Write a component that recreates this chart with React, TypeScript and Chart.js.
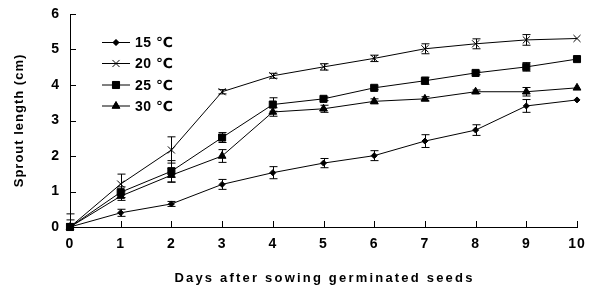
import React, { useEffect, useRef } from "react";
import { Chart, registerables } from "chart.js";
import { drawPoint } from "chart.js/helpers";

Chart.register(...registerables);

const days = [0, 1, 2, 3, 4, 5, 6, 7, 8, 9, 10];
const yTicks = [0, 1, 2, 3, 4, 5, 6];
const seriesNames = ["15 ℃", "20 ℃", "25 ℃", "30 ℃"];
const xTitle = "Days after sowing germinated seeds";
const yTitle = "Sprout length (cm)";
const t15 = [0, 0.4, 0.65, 1.2, 1.53, 1.8, 2.01, 2.42, 2.73, 3.41, 3.58];
const t20 = [0, 1.21, 2.17, 3.81, 4.26, 4.51, 4.75, 5.02, 5.16, 5.27, 5.31];
const t25 = [0, 0.98, 1.57, 2.52, 3.45, 3.61, 3.92, 4.12, 4.34, 4.51, 4.73];
const t30 = [0, 0.87, 1.46, 2.0, 3.24, 3.33, 3.54, 3.61, 3.81, 3.81, 3.92];
const e15 = [0.05, 0.1, 0.07, 0.14, 0.17, 0.13, 0.14, 0.18, 0.15, 0.18, 0];
const e20 = [0.37, 0.28, 0.37, 0.06, 0.07, 0.09, 0.09, 0.14, 0.14, 0.15, 0];
const e25 = [0.2, 0.15, 0.3, 0.14, 0.19, 0.05, 0.05, 0.1, 0.05, 0.12, 0];
const e30 = [0.1, 0.12, 0.2, 0.18, 0.12, 0.1, 0.07, 0.06, 0.05, 0.12, 0];

const FONT = "'Liberation Sans', Arial, 'DejaVu Sans', sans-serif";

export default function App() {
  const ref = useRef<HTMLCanvasElement | null>(null);

  useEffect(() => {
    document.body.style.margin = "0";
    const canvas = ref.current!;
    const values = [t15, t20, t25, t30];
    const errors = [e15, e20, e25, e30];
    const styles = [
      { pointStyle: "rectRot", radius: 3 },
      { pointStyle: "crossRot", radius: 5 },
      { pointStyle: "rect", radius: 5 },
      { pointStyle: "triangle", radius: 4.5 },
    ];

    const datasets = values.map((vals, i) => ({
      label: seriesNames[i],
      data: days.map((d, j) => ({ x: d, y: vals[j] })),
      borderColor: "#000",
      backgroundColor: "#000",
      borderWidth: 1,
      pointStyle: styles[i].pointStyle as any,
      pointRadius: styles[i].radius,
      pointBorderWidth: 1,
      pointBackgroundColor: "#000",
      pointBorderColor: "#000",
      tension: 0,
      clip: false as any,
      errs: errors[i],
    }));

    const spacingPlugin = {
      id: "spacing",
      beforeDraw(chart: any) {
        chart.ctx.letterSpacing = "1px";
      },
    };

    const decoPlugin = {
      id: "deco",
      afterDatasetsDraw(chart: any) {
        const ctx = chart.ctx;
        const xs = chart.scales.x;
        const ys = chart.scales.y;
        const area = chart.chartArea;
        ctx.save();
        ctx.strokeStyle = "#000";
        ctx.lineWidth = 1;
        // tick marks
        ctx.beginPath();
        yTicks.forEach((v) => {
          const py = Math.round(ys.getPixelForValue(v)) + 0.5;
          ctx.moveTo(area.left, py);
          ctx.lineTo(area.left + 6, py);
        });
        days.forEach((d) => {
          const px = Math.round(xs.getPixelForValue(d)) + 0.5;
          ctx.moveTo(px, area.bottom);
          ctx.lineTo(px, area.bottom - 6);
        });
        ctx.stroke();
        // error bars
        ctx.save();
        ctx.beginPath();
        ctx.rect(area.left - 10, area.top - 10, area.right - area.left + 20, area.bottom - area.top + 10);
        ctx.clip();
        chart.data.datasets.forEach((ds: any) => {
          ds.data.forEach((p: any, j: number) => {
            const e = ds.errs[j];
            if (!e) return;
            const px = Math.round(xs.getPixelForValue(p.x)) + 0.5;
            const yt = ys.getPixelForValue(p.y + e);
            const yb = ys.getPixelForValue(p.y - e);
            ctx.beginPath();
            ctx.moveTo(px, yt);
            ctx.lineTo(px, yb);
            ctx.moveTo(px - 4, yt);
            ctx.lineTo(px + 4, yt);
            ctx.moveTo(px - 4, yb);
            ctx.lineTo(px + 4, yb);
            ctx.stroke();
          });
        });
        ctx.restore();
        // legend
        const rows = [42.5, 63.5, 85, 106];
        ctx.font = `bold 14px ${FONT}`;
        ctx.letterSpacing = "0.5px";
        ctx.textBaseline = "middle";
        ctx.textAlign = "left";
        ctx.fillStyle = "#000";
        chart.data.datasets.forEach((ds: any, i: number) => {
          const y = rows[i];
          ctx.beginPath();
          ctx.moveTo(102, y);
          ctx.lineTo(130, y);
          ctx.stroke();
          drawPoint(ctx, {
            pointStyle: ds.pointStyle,
            radius: ds.pointRadius,
            borderWidth: 1,
            rotation: 0,
          } as any, 116, y);
          ctx.fill();
          ctx.fillText(ds.label, 135, y + 1);
        });
        // x axis title
        ctx.font = `bold 13px ${FONT}`;
        ctx.letterSpacing = "2.2px";
        ctx.textAlign = "center";
        ctx.textBaseline = "alphabetic";
        ctx.fillText(xTitle, (area.left + area.right) / 2 + 1, 282);
        ctx.restore();
      },
    };

    const chart = new Chart(canvas, {
      type: "line",
      data: { datasets: datasets as any },
      plugins: [spacingPlugin, decoPlugin],
      options: {
        responsive: false,
        animation: false,
        layout: { padding: { top: 14, right: 17, left: 0, bottom: 0 } },
        plugins: { legend: { display: false }, tooltip: { enabled: false } },
        scales: {
          x: {
            type: "linear",
            min: 0,
            max: 10,
            afterFit(scale: any) {
              scale.height = 63;
              scale.paddingLeft = 0;
              scale.paddingRight = 0;
            },
            afterBuildTicks(scale: any) {
              scale.ticks = days.map((d) => ({ value: d }));
            },
            grid: { display: false, drawTicks: false },
            border: { display: true, color: "#000", width: 1 },
            ticks: {
              padding: 9,
              color: "#000",
              maxRotation: 0,
              autoSkip: false,
              font: { family: FONT, size: 14, weight: "bold" },
            },
          },
          y: {
            type: "linear",
            min: 0,
            max: 6,
            afterFit(scale: any) {
              scale.width = 70;
              scale.paddingTop = 0;
              scale.paddingBottom = 0;
            },
            afterBuildTicks(scale: any) {
              scale.ticks = yTicks.map((v) => ({ value: v }));
            },
            grid: { display: false, drawTicks: false },
            border: { display: true, color: "#000", width: 1 },
            ticks: {
              padding: 10,
              color: "#000",
              font: { family: FONT, size: 14, weight: "bold" },
            },
            title: {
              display: true,
              text: yTitle,
              color: "#000",
              padding: { top: 12, bottom: 0 },
              font: { family: FONT, size: 13, weight: "bold" },
            },
          },
        },
      } as any,
    });
    return () => chart.destroy();
  }, []);

  return (
    <div style={{ width: 594, height: 290 }}>
      <canvas ref={ref} width={594} height={290} style={{ width: 594, height: 290 }} />
    </div>
  );
}
